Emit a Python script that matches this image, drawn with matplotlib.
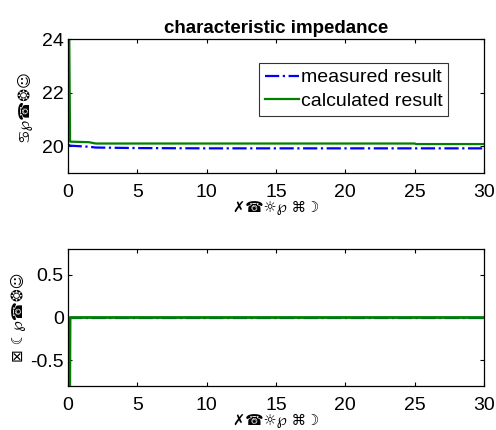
import matplotlib.pyplot as plt
import numpy as np
from matplotlib.ticker import FuncFormatter

plt.rcParams['font.family'] = ['Liberation Sans', 'DejaVu Sans']

# frequency points (x axis)
freq = [0, 0.15, 1.5, 2, 5, 10, 15, 20, 25, 25.1, 30]

# top panel: characteristic impedance
measured_top = [20.07, 20.02, 19.98, 19.95, 19.93, 19.92, 19.92, 19.92, 19.92, 19.92, 19.92]
calculated_top = [30.0, 20.17, 20.15, 20.1, 20.1, 20.1, 20.1, 20.1, 20.1, 20.08, 20.08]

# bottom panel
measured_bot = [0.0, 0, 0, 0, 0, 0, 0, 0, 0, 0, 0]
calculated_bot = [-5.0, 0, 0, 0, 0, 0, 0, 0, 0, 0, 0]

xticks = [0, 5, 10, 15, 20, 25, 30]
xlabel_txt = '✗☎☼℘ ⌘☽'
ylabel_top = '♋℘☎❂☺'
ylabel_bot = '⊠ ☾℘☎❂☺'

fig = plt.figure(figsize=(4.96, 4.30), dpi=100)
ax1 = fig.add_axes([68/496, 1 - 173/430, (484-68)/496, (173-39)/430])
ax2 = fig.add_axes([68/496, 1 - 386/430, (484-68)/496, (386-249)/430])

fmt = FuncFormatter(lambda v, p: '%g' % v)
for ax in (ax1, ax2):
    ax.set_xlim(0, 30)
    ax.set_xticks(xticks)
    ax.tick_params(direction='in', top=True, right=True, labelsize=14, length=3, width=0.8)
    ax.tick_params(axis='x', pad=8)
    ax.tick_params(axis='y', pad=3)
    ax.yaxis.set_major_formatter(fmt)
    for s in ax.spines.values():
        s.set_linewidth(0.9)
    ax.set_xlabel(xlabel_txt, fontsize=10.5, labelpad=-1, family=['DejaVu Sans'])

ax1.plot(freq, measured_top, color='#0000ff', linestyle='-.', linewidth=1.6, label='measured result')
ax1.plot(freq, calculated_top, color='#007f00', linewidth=1.6, label='calculated result')
ax1.set_ylim(19, 24)
ax1.set_yticks([20, 22, 24])
ax1.set_title('characteristic impedance', fontsize=13.5, fontweight='bold', pad=4)
ax1.set_ylabel(ylabel_top, fontsize=11, labelpad=8, family=['DejaVu Sans'])
leg = ax1.legend(loc='upper left', bbox_to_anchor=((259-68)/416, (173-63)/134), fontsize=14,
                 frameon=True, fancybox=False, edgecolor='black', handlelength=1.75,
                 handletextpad=0.1, borderpad=0.3, labelspacing=0.3, borderaxespad=0)
leg.get_frame().set_linewidth(0.8)

ax2.plot(freq, measured_bot, color='#0000ff', linestyle='-.', linewidth=1.6)
ax2.plot(freq, calculated_bot, color='#007f00', linewidth=2)
ax2.set_ylim(-0.8, 0.8)
ax2.set_yticks([-0.5, 0, 0.5])
ax2.set_ylabel(ylabel_bot, fontsize=11, labelpad=3, family=['DejaVu Sans'])

plt.savefig('out.png', dpi=100)
plt.close()
